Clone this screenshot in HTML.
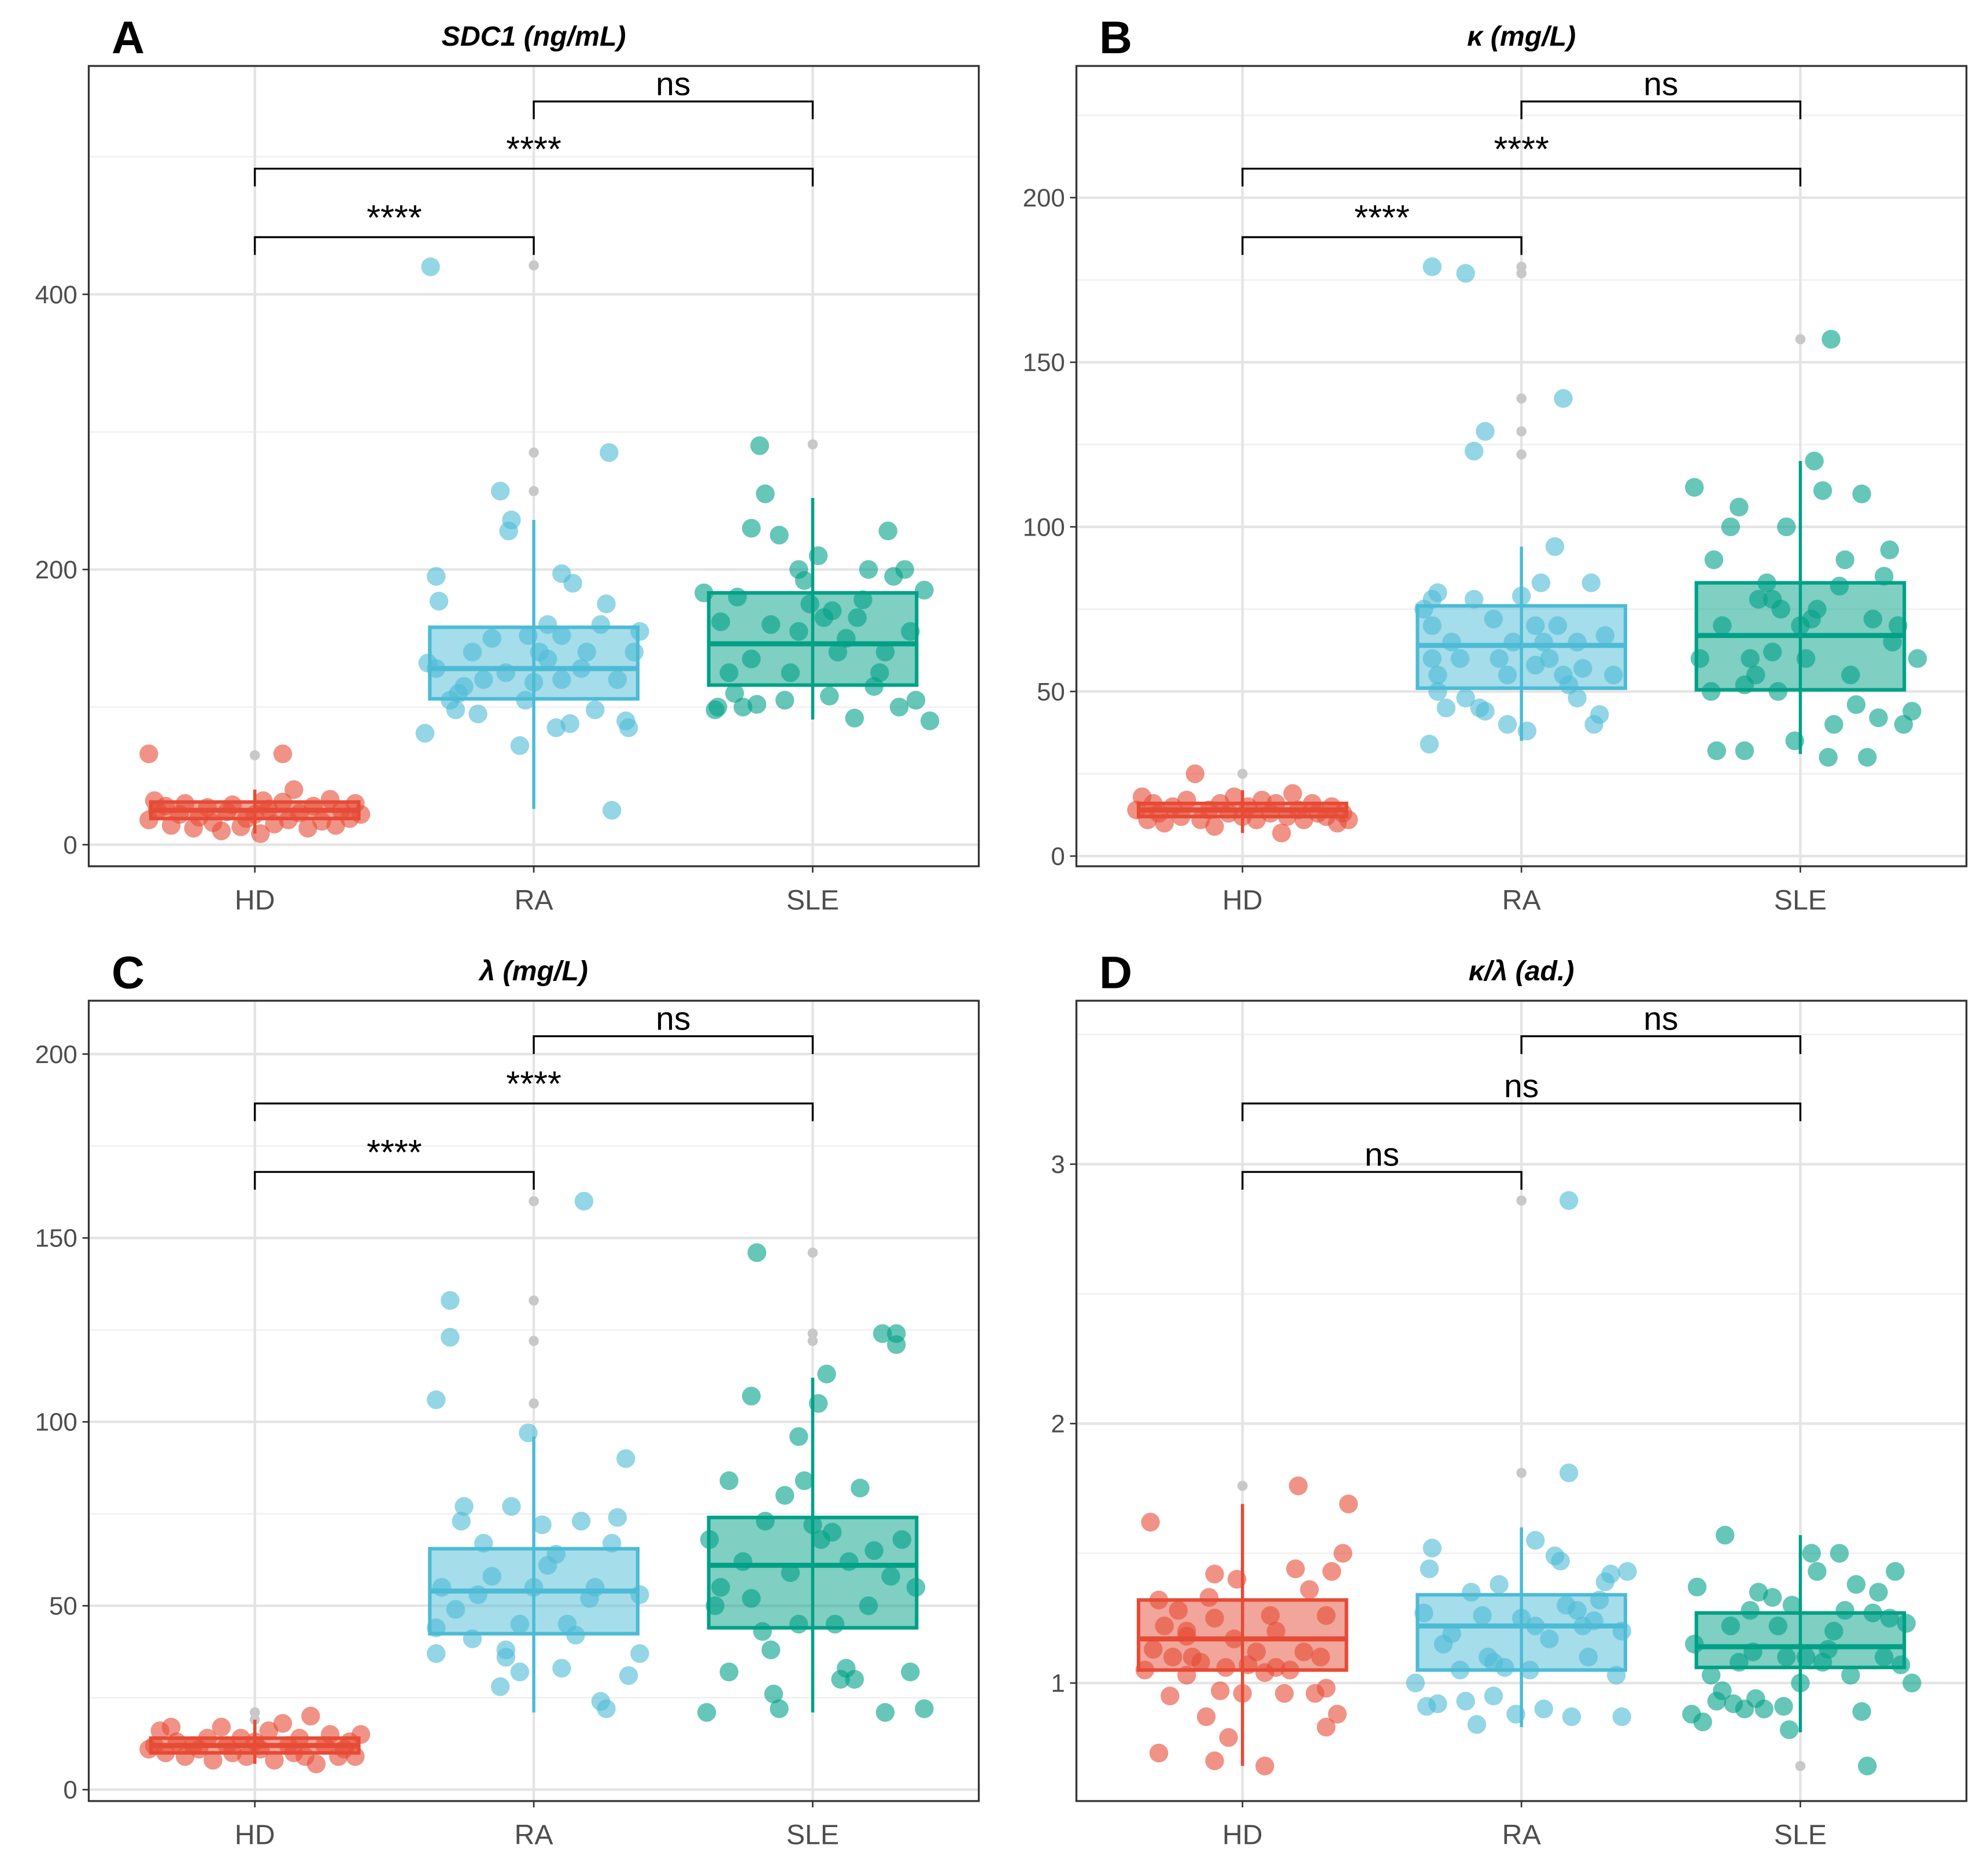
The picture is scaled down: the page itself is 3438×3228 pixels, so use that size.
<!DOCTYPE html>
<html><head><meta charset="utf-8"><style>
html,body{margin:0;padding:0;background:#fff;}
svg{display:block;}
text{font-family:"Liberation Sans",sans-serif;}
</style></head><body>
<svg id="chart" width="3438" height="3228" viewBox="0 0 1568 1472" preserveAspectRatio="none" xmlns="http://www.w3.org/2000/svg"></svg>
<script>
const categories = ["HD","RA","SLE"];
const colors = ["#E64B35","#4DBBD5","#00A087"];
const panelLetters = ["A","B","C","D"];
const panelTitles = ["SDC1 (ng/mL)","κ (mg/L)","λ (mg/L)","κ/λ (ad.)"];
const majorTicksA = [0,200,400], minorTicksA = [100,300,500];
const majorTicksB = [0,50,100,150,200], minorTicksB = [25,75,125,175,225];
const majorTicksC = [0,50,100,150,200], minorTicksC = [25,75,125,175];
const majorTicksD = [1,2,3], minorTicksD = [1.5,2.5,3.5];
const domainA = [-15.7,566], domainB = [-3.1,240], domainC = [-3.1,214.5], domainD = [0.545,3.63];
// box stats: [lowWhisker, q1, median, q3, highWhisker]
const boxA = [[8,19,25,31,40],[26,106,128,158,236],[91,116,146,183,252]];
const boxB = [[7,12,14,16,20],[35,51,64,76,94],[31,50.5,67,83,120]];
const boxC = [[7,10,12,14,19],[21,42.4,54,65.5,96],[21,44,61,74,112]];
const boxD = [[0.68,1.05,1.17,1.32,1.69],[0.83,1.05,1.22,1.34,1.6],[0.81,1.06,1.14,1.27,1.57]];
const outA = [[65],[257,285,421],[291]];
const outB = [[25],[122,129,139,177,179],[157]];
const outC = [[19,21],[105,122,133,160],[122,124,146]];
const outD = [[1.76],[1.81,2.86],[0.68]];
const sigA = ["ns","****","****"], sigB = ["ns","****","****"], sigC = ["ns","****","****"], sigD = ["ns","ns","ns"];
// points: [jitter (category units), value]
const ptsA_HD = [[-0.38,66],[0.1,66],[0.14,40],[-0.38,18],[-0.35,25],[-0.32,28],[-0.3,14],[-0.27,22],[-0.25,30],[-0.22,12],[-0.2,20],[-0.17,27],[-0.15,16],[-0.12,10],[-0.1,24],[-0.08,29],[-0.05,13],[-0.03,19],[0,22],[0.02,8],[0.05,26],[0.07,15],[0.1,31],[0.12,18],[0.16,23],[0.19,12],[0.21,28],[0.24,17],[0.27,33],[0.29,14],[0.31,25],[0.34,19],[0.36,30],[0.38,22],[-0.36,32],[0.03,32]];
const ptsA_RA = [[-0.37,420],[-0.35,195],[-0.34,177],[-0.39,81],[-0.38,132],[-0.35,128],[-0.3,105],[-0.28,98],[-0.25,115],[-0.22,140],[-0.2,95],[-0.15,150],[-0.12,257],[-0.08,236],[-0.09,228],[-0.05,72],[-0.03,105],[0,118],[0.02,140],[0.05,160],[0.08,85],[0.1,120],[0.1,152],[0.13,88],[0.1,197],[0.14,190],[0.17,128],[0.19,140],[0.22,98],[0.24,160],[0.26,175],[0.27,285],[0.28,25],[0.3,120],[0.33,90],[0.34,85],[0.36,140],[0.38,155],[-0.18,120],[-0.27,110],[-0.1,125],[0.05,135],[-0.02,152]];
const ptsA_SLE = [[-0.39,183],[-0.35,98],[-0.33,162],[-0.34,100],[-0.3,125],[-0.28,110],[-0.25,100],[-0.22,135],[-0.2,102],[-0.22,230],[-0.19,290],[-0.17,255],[-0.15,160],[-0.12,225],[-0.1,105],[-0.08,125],[-0.05,200],[-0.03,192],[-0.01,175],[0.02,210],[0.04,165],[0.06,108],[0.09,140],[0.12,150],[0.15,92],[0.16,165],[0.18,178],[0.2,200],[0.22,115],[0.24,125],[0.27,228],[0.29,195],[0.31,100],[0.33,200],[0.35,155],[0.37,105],[0.4,185],[0.42,90],[-0.27,180],[0.07,170],[0.26,140],[-0.05,155]];
const ptsB_HD = [[-0.38,14],[-0.36,18],[-0.34,11],[-0.32,16],[-0.3,13],[-0.28,10],[-0.25,15],[-0.22,12],[-0.2,17],[-0.17,25],[-0.15,11],[-0.12,14],[-0.1,9],[-0.08,16],[-0.05,13],[-0.03,18],[0,12],[0.02,15],[0.05,11],[0.07,17],[0.1,13],[0.12,16],[0.14,7],[0.16,12],[0.18,19],[0.2,14],[0.22,11],[0.25,16],[0.27,13],[0.3,12],[0.32,15],[0.34,10],[0.36,13],[0.38,11]];
const ptsB_RA = [[-0.33,34],[-0.35,75],[-0.32,78],[-0.3,80],[-0.32,70],[-0.3,55],[-0.3,50],[-0.27,45],[-0.32,60],[-0.25,65],[-0.22,60],[-0.2,48],[-0.17,78],[-0.15,45],[-0.13,44],[-0.32,179],[-0.2,177],[-0.17,123],[-0.13,129],[-0.08,60],[-0.05,40],[-0.03,65],[0,79],[0.02,38],[0.05,70],[0.07,83],[0.1,60],[0.12,94],[0.15,55],[0.13,70],[0.17,52],[0.2,65],[0.22,57],[0.25,83],[0.26,40],[0.28,43],[0.3,67],[0.33,55],[0.15,139],[-0.1,72],[0.05,58],[0.2,48],[-0.05,55],[0.08,65]];
const ptsB_SLE = [[-0.38,112],[-0.36,60],[-0.32,50],[-0.3,32],[-0.31,90],[-0.28,70],[-0.25,100],[-0.22,106],[-0.2,32],[-0.18,60],[-0.16,55],[-0.15,78],[-0.12,83],[-0.1,62],[-0.08,50],[-0.07,75],[-0.05,100],[-0.02,35],[0,70],[0.02,60],[0.04,72],[0.06,75],[0.08,111],[0.1,30],[0.12,40],[0.14,82],[0.16,90],[0.18,55],[0.2,46],[0.22,110],[0.24,30],[0.26,72],[0.28,42],[0.3,85],[0.32,93],[0.35,70],[0.37,40],[0.4,44],[0.42,60],[0.11,157],[-0.1,78],[0.05,120],[0.33,65],[-0.2,52]];
const ptsC_HD = [[-0.38,11],[-0.36,12],[-0.34,16],[-0.32,10],[-0.3,17],[-0.28,13],[-0.25,9],[-0.22,12],[-0.2,11],[-0.17,14],[-0.15,8],[-0.12,17],[-0.1,12],[-0.08,10],[-0.05,14],[-0.03,9],[0,13],[0.02,11],[0.05,16],[0.07,8],[0.1,18],[0.12,12],[0.14,10],[0.16,14],[0.18,9],[0.2,20],[0.22,7],[0.25,12],[0.27,15],[0.3,9],[0.32,11],[0.34,13],[0.36,9],[0.38,15]];
const ptsC_RA = [[-0.35,37],[-0.35,44],[-0.33,55],[-0.35,106],[-0.3,133],[-0.3,123],[-0.28,49],[-0.26,73],[-0.25,77],[-0.22,41],[-0.2,53],[-0.18,67],[-0.15,58],[-0.12,28],[-0.1,38],[-0.08,77],[-0.1,36],[-0.05,32],[-0.02,97],[0,55],[0.03,72],[0.05,61],[0.1,33],[0.12,45],[0.17,73],[0.18,160],[0.2,52],[0.22,55],[0.24,24],[0.26,22],[0.28,67],[0.3,74],[0.33,90],[0.34,31],[0.38,37],[0.38,53],[-0.05,45],[0.08,64],[0.15,42]];
const ptsC_SLE = [[-0.38,21],[-0.37,68],[-0.35,50],[-0.33,55],[-0.3,32],[-0.3,84],[-0.25,62],[-0.22,52],[-0.22,107],[-0.2,146],[-0.18,43],[-0.17,73],[-0.15,38],[-0.14,26],[-0.12,22],[-0.1,80],[-0.08,59],[-0.05,96],[-0.03,84],[0,72],[0.02,105],[0.03,68],[0.05,113],[0.08,45],[0.1,30],[0.12,33],[0.13,62],[0.15,30],[0.17,82],[0.2,50],[0.22,65],[0.25,124],[0.26,21],[0.28,58],[0.3,124],[0.3,121],[0.32,68],[0.35,32],[0.37,55],[0.4,22],[-0.05,45],[0.07,70]];
const ptsD_HD = [[-0.33,1.62],[-0.35,1.05],[-0.32,1.13],[-0.3,1.32],[-0.28,1.22],[-0.26,0.95],[-0.25,1.1],[-0.23,1.28],[-0.2,1.2],[-0.2,1.03],[-0.18,1.1],[-0.15,1.08],[-0.13,0.87],[-0.12,1.33],[-0.1,1.42],[-0.1,1.25],[-0.08,0.97],[-0.06,1.06],[-0.03,1.17],[-0.02,1.4],[0,0.96],[0.02,1.07],[0.05,1.12],[0.08,1.04],[0.1,1.26],[0.12,1.2],[0.15,0.96],[0.17,1.05],[0.19,1.44],[0.2,1.76],[0.22,1.12],[0.24,1.36],[0.26,0.96],[0.28,1.1],[0.3,1.26],[0.32,1.43],[0.34,0.88],[0.36,1.5],[0.38,1.69],[-0.3,0.73],[-0.1,0.7],[0.08,0.68],[-0.05,0.79],[0.3,0.98],[0.3,0.83],[0.12,1.06],[-0.2,1.18]];
const ptsD_RA = [[-0.38,1.0],[-0.35,1.27],[-0.33,1.44],[-0.32,1.52],[-0.34,0.91],[-0.3,0.92],[-0.28,1.15],[-0.25,1.19],[-0.22,1.05],[-0.2,0.93],[-0.18,1.35],[-0.16,0.84],[-0.14,1.26],[-0.12,1.1],[-0.1,0.95],[-0.08,1.38],[-0.06,1.06],[-0.02,0.88],[0,1.25],[0.03,1.05],[0.05,1.22],[0.08,0.9],[0.1,1.17],[0.12,1.49],[0.14,1.47],[0.16,1.3],[0.18,0.87],[0.2,1.28],[0.22,1.22],[0.24,1.1],[0.26,1.24],[0.28,1.32],[0.3,1.39],[0.32,1.42],[0.34,1.03],[0.36,0.87],[0.38,1.43],[0.36,1.2],[0.17,2.86],[0.17,1.81],[0.05,1.55],[-0.1,1.08]];
const ptsD_SLE = [[-0.38,1.15],[-0.35,0.85],[-0.37,1.37],[-0.32,1.03],[-0.3,0.93],[-0.28,0.97],[-0.25,1.22],[-0.24,0.92],[-0.22,1.08],[-0.2,0.9],[-0.18,1.28],[-0.17,1.12],[-0.16,0.94],[-0.15,1.35],[-0.13,0.9],[-0.1,1.33],[-0.08,1.22],[-0.06,0.91],[-0.04,0.82],[-0.03,1.3],[0,1.0],[0.02,1.1],[0.04,1.5],[0.06,1.43],[0.08,1.08],[0.1,1.13],[0.12,1.2],[0.14,1.5],[0.16,1.28],[0.18,1.03],[0.2,1.38],[0.22,0.89],[0.24,0.68],[0.26,1.27],[0.28,1.35],[0.3,1.1],[0.32,1.25],[0.34,1.43],[0.36,1.07],[0.38,1.23],[0.4,1.0],[-0.39,0.88],[-0.27,1.57],[-0.05,1.1]];

const NS = "http://www.w3.org/2000/svg";
const svg = document.getElementById('chart');
function mk(tag, attrs, parent){const e=document.createElementNS(NS,tag);for(const k in attrs)e.setAttribute(k,attrs[k]);(parent||svg).appendChild(e);return e;}

const panels = [
 {x0:70,y0:52,domain:domainA,major:majorTicksA,minor:minorTicksA,box:boxA,out:outA,sig:sigA,pts:[ptsA_HD,ptsA_RA,ptsA_SLE]},
 {x0:849,y0:52,domain:domainB,major:majorTicksB,minor:minorTicksB,box:boxB,out:outB,sig:sigB,pts:[ptsB_HD,ptsB_RA,ptsB_SLE]},
 {x0:70,y0:789,domain:domainC,major:majorTicksC,minor:minorTicksC,box:boxC,out:outC,sig:sigC,pts:[ptsC_HD,ptsC_RA,ptsC_SLE]},
 {x0:849,y0:789,domain:domainD,major:majorTicksD,minor:minorTicksD,box:boxD,out:outD,sig:sigD,pts:[ptsD_HD,ptsD_RA,ptsD_SLE]}
];
const W=702,H=631,catW=220;

panels.forEach((p,pi)=>{
  const g=mk('g',{});
  
  
  const y=v=>p.y0+H-(v-p.domain[0])/(p.domain[1]-p.domain[0])*H;
  const x=(c,j)=>p.x0+131+(c+(j||0))*catW;
  p.minor.forEach(v=>{if(y(v)>p.y0){const l=mk('line',{x1:p.x0,x2:p.x0+W,y1:y(v),y2:y(v),stroke:'#f0f0f0','stroke-width':1.2},g);}});
  p.major.forEach(v=>{const l=mk('line',{x1:p.x0,x2:p.x0+W,y1:y(v),y2:y(v),stroke:'#e4e4e4','stroke-width':2},g);});
  categories.forEach((c,ci)=>{const l=mk('line',{x1:x(ci),x2:x(ci),y1:p.y0,y2:p.y0+H,stroke:'#e4e4e4','stroke-width':2},g);});
  p.major.forEach(v=>{
    const t=mk('line',{x1:p.x0-5,x2:p.x0,y1:y(v),y2:y(v),stroke:'#333','stroke-width':1.2},g);
    
    const tx=mk('text',{x:p.x0-9,y:y(v)+7,'text-anchor':'end','font-size':20,fill:'#4d4d4d'},g);
    tx.textContent=v;
  });
  categories.forEach((c,ci)=>{
    const t=mk('line',{x1:x(ci),x2:x(ci),y1:p.y0+H,y2:p.y0+H+5,stroke:'#333','stroke-width':1.2},g);
    
    const tx=mk('text',{x:x(ci),y:p.y0+H+34,'text-anchor':'middle','font-size':22,fill:'#4d4d4d'},g);
    tx.textContent=c;
  });
  p.out.forEach((arr,ci)=>arr.forEach(v=>{
    const o=mk('circle',{cx:x(ci),cy:y(v),r:4,fill:'#c8c8c8'},g);
    
  }));
  p.box.forEach((b,ci)=>{
    const col=colors[ci];
    const w=mk('line',{x1:x(ci),x2:x(ci),y1:y(b[0]),y2:y(b[4]),stroke:col,'stroke-width':2.5},g);
    
    const r=mk('rect',{x:x(ci)-82,width:164,y:y(b[3]),height:y(b[1])-y(b[3]),fill:col,'fill-opacity':0.5,stroke:col,'stroke-width':2.8},g);
    
    const m=mk('line',{x1:x(ci)-82,x2:x(ci)+82,y1:y(b[2]),y2:y(b[2]),stroke:col,'stroke-width':4},g);
    
  });
  p.pts.forEach((arr,ci)=>arr.forEach(pt=>{
    const c=mk('circle',{cx:x(ci,pt[0]),cy:y(pt[1]),r:7.4,fill:colors[ci],'fill-opacity':0.6},g);
    
  }));
  const f=mk('rect',{x:p.x0,y:p.y0,width:W,height:H,fill:'none',stroke:'#333','stroke-width':1.5},g);
  
  const br=[[1,2,28],[0,2,81],[0,1,135]];
  br.forEach((b,bi)=>{
    const yy=p.y0+b[2];
    const pl=mk('polyline',{points:`${x(b[0])},${yy+14} ${x(b[0])},${yy} ${x(b[1])},${yy} ${x(b[1])},${yy+14}`,fill:'none',stroke:'#000','stroke-width':1.5},g);
    
    const isNs=p.sig[bi]==='ns';
    const t=mk('text',{x:(x(b[0])+x(b[1]))/2,y:isNs?yy-5:yy-6,'text-anchor':'middle','font-size':isNs?26:28,fill:'#000'},g);
    t.textContent=p.sig[bi];
  });
  const tt=mk('text',{x:p.x0+W/2,y:p.y0-16,'text-anchor':'middle','font-size':22,'font-weight':'bold','font-style':'italic',fill:'#000'},g);
  tt.textContent=panelTitles[pi];
  const lt=mk('text',{x:p.x0+18,y:p.y0-10,'font-size':36,'font-weight':'bold',fill:'#000'},g);
  lt.textContent=panelLetters[pi];
});
</script>
</body></html>
